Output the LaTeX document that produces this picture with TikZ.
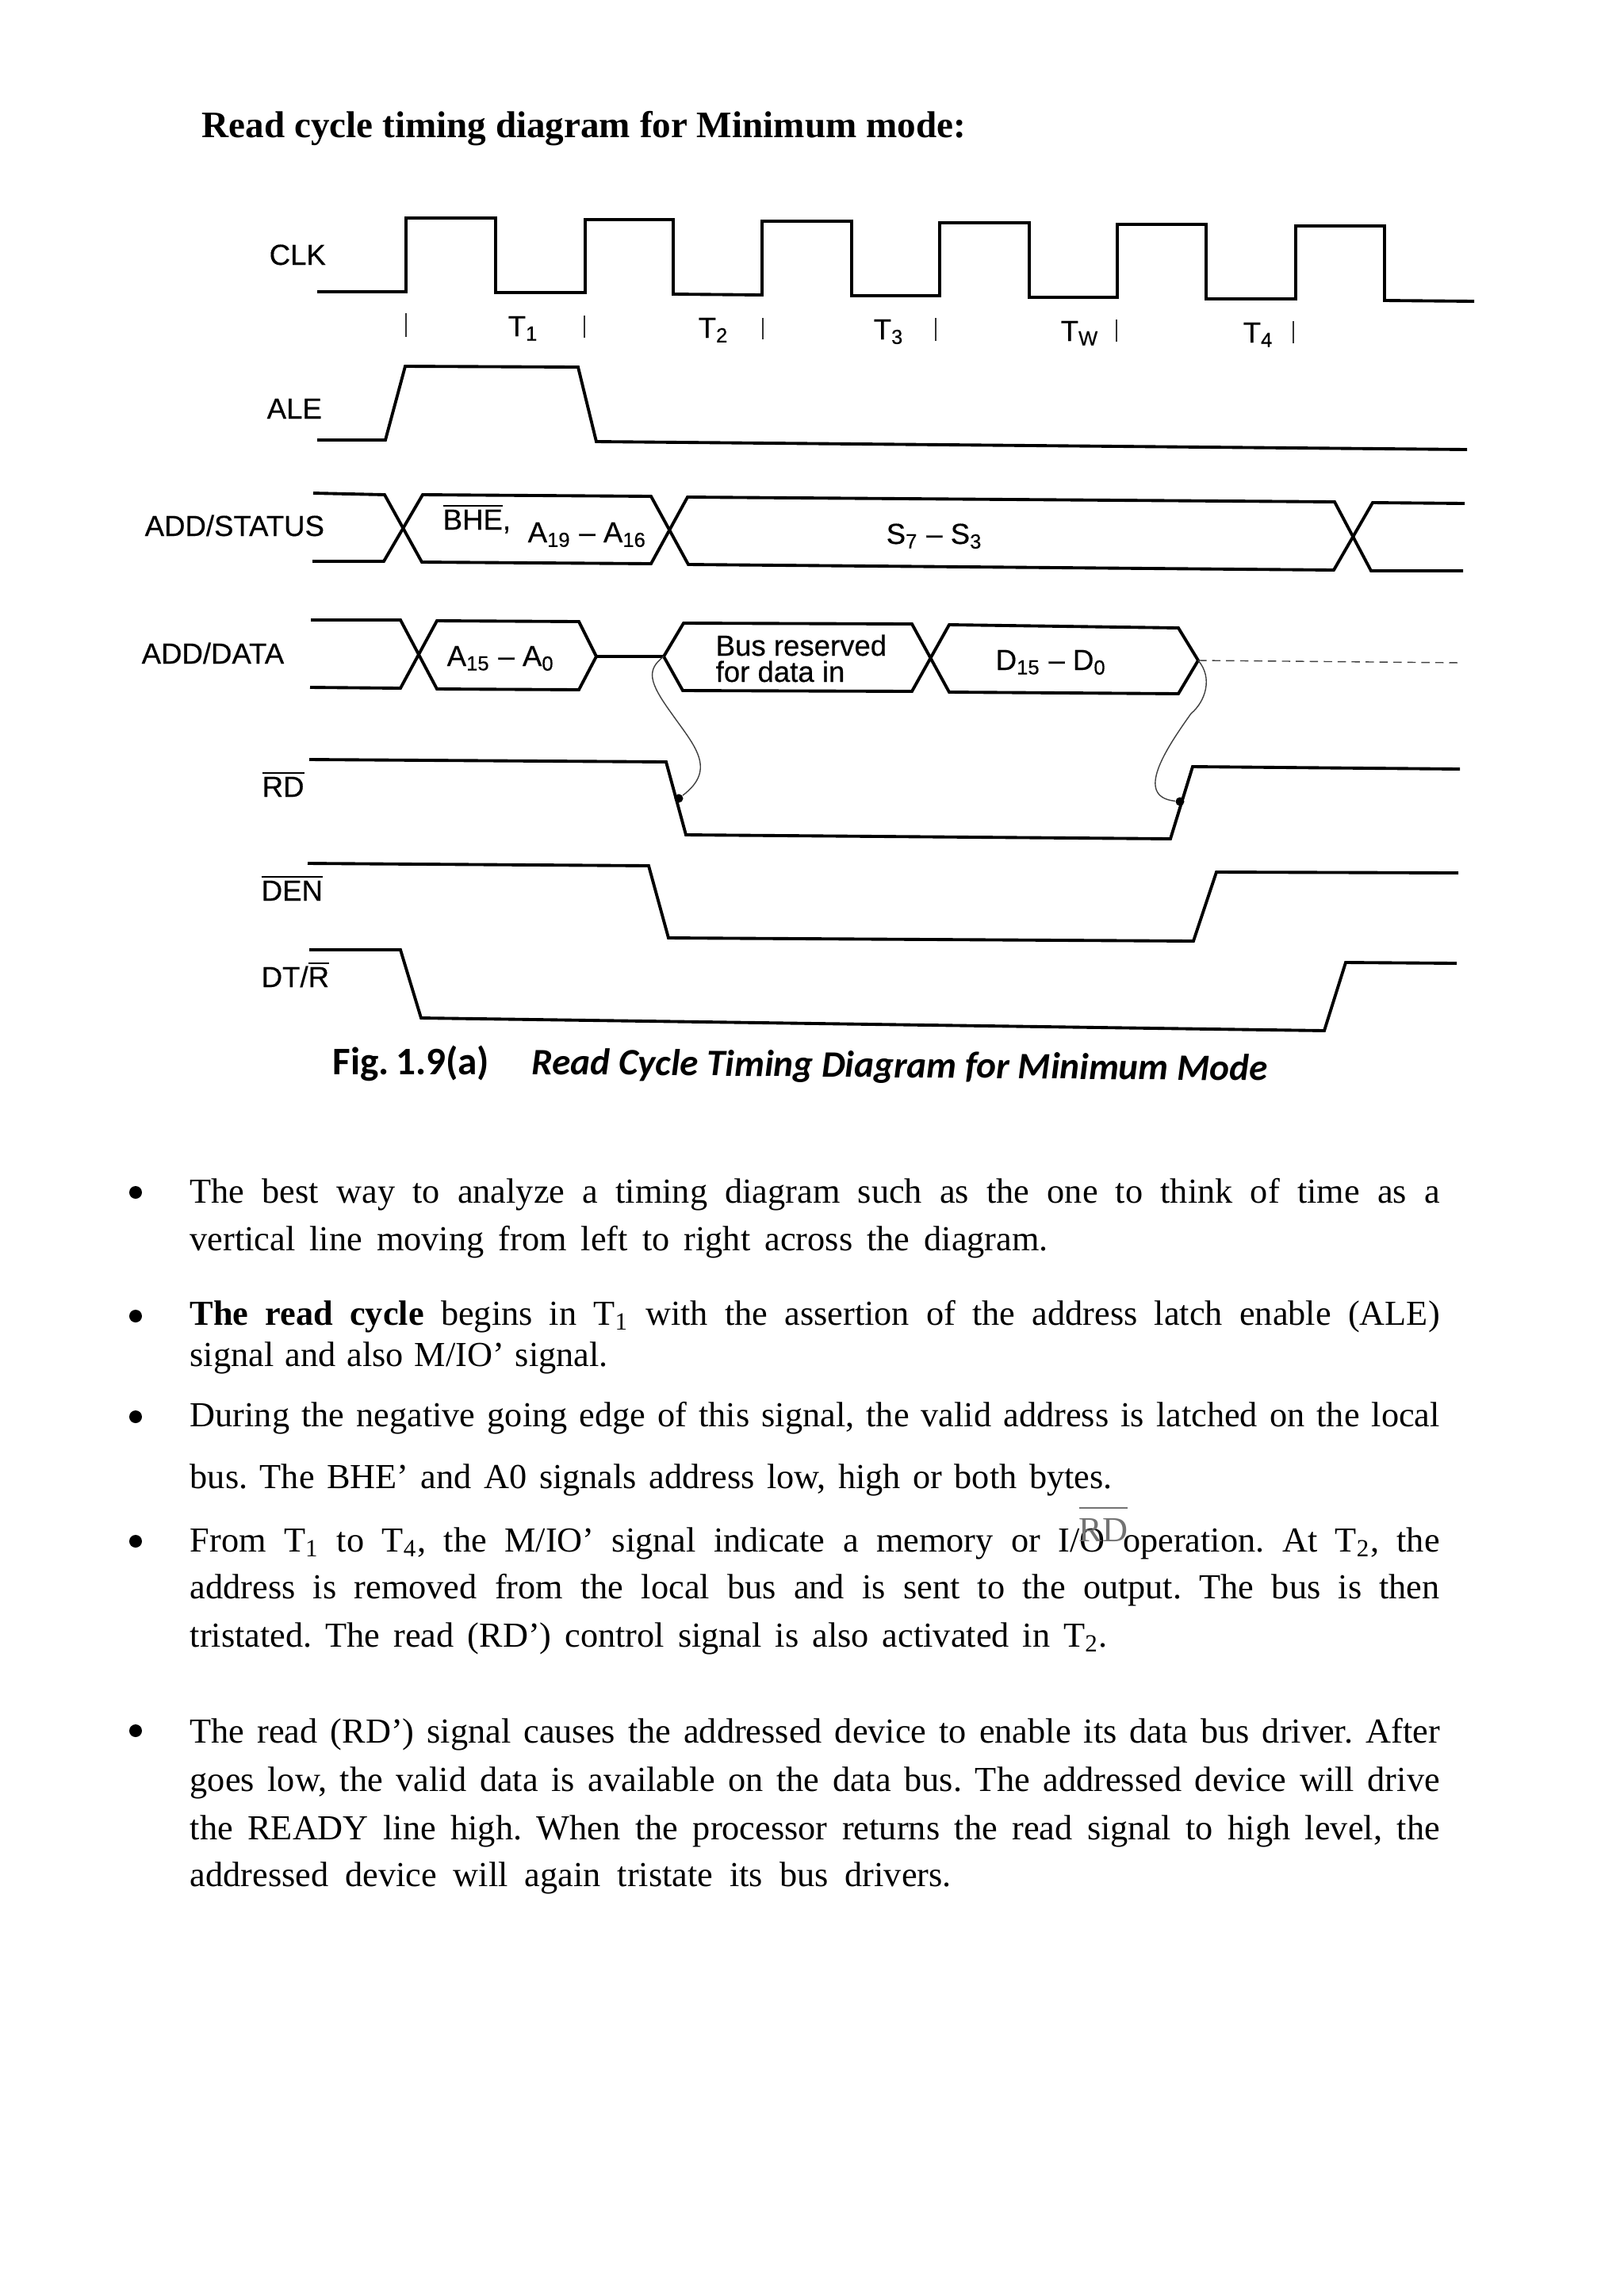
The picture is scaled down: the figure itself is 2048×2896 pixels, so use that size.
\documentclass[tikz,border=0pt]{standalone}
\usepackage{fontspec}
\setmainfont{Liberation Serif}
\newfontfamily\bodyfont{Liberation Serif}
\newfontfamily\labfont[FakeBold=0.4]{Liberation Sans}
\newfontfamily\capfont{Carlito}
\newdimen\pxu \pxu=0.01cm
\begin{document}
\begin{tikzpicture}[
  x=0.01cm, y=-0.01cm,
  sg/.style={line width=1.1pt, line join=miter},
  thn/.style={line width=0.4pt, black!75},
  tick/.style={line width=0.5pt, black!80},
  lab/.style={anchor=base west, inner sep=0pt, font=\labfont\fontsize{10.4}{11}\selectfont},
  nar/.style={anchor=base west, inner sep=0pt, font=\capfont\bfseries\fontsize{13.4}{14}\selectfont},
  ln/.style={anchor=base west, inner sep=0pt, font=\bodyfont\frenchspacing\fontsize{12.6}{14}\selectfont},
  bul/.style={circle, fill=black, inner sep=0pt, minimum size=0.16cm},
  pin/.style={circle, fill=black, inner sep=0pt, minimum size=0.11cm}
]
\useasboundingbox (0,0) rectangle (2048,2896);
% titulo
\node[ln, font=\bodyfont\bfseries\fontsize{13.4}{15}\selectfont] (title) at (254,173) {Read cycle timing diagram for Minimum mode:};
% clk
\draw[sg] (400,368) -- (512,368) -- (512,275) -- (625,275) -- (625,369) -- (738,369) -- (738,277) -- (849,277) -- (849,371) -- (961,372) -- (961,279) -- (1074,279) -- (1074,373) -- (1185,373) -- (1185,281) -- (1298,281) -- (1298,375) -- (1409,375) -- (1409,283) -- (1521,283) -- (1521,377) -- (1634,377) -- (1634,285) -- (1746,285) -- (1746,379) -- (1859,380);
\foreach \x/\a/\b in {512/395/425, 737/398/426, 962/401/428, 1180/401/430, 1408/403/431, 1631/405/433}
  \draw[tick] (\x,\a) -- (\x,\b);
\foreach \x/\y/\t [count=\i] in {640/424/1, 880/426/2, 1101/428/3, 1337/430/W, 1567/432/4}
  \node[lab] (tt\i) at (\x,\y) {T\textsubscript{\t}};
% nombres de las senales
\node[lab] (clk) at (339,334) {CLK};
\node[lab] (ale) at (336,528) {ALE};
\node[lab] (adds) at (182,676) {ADD/STATUS};
\node[lab] (addd) at (178,837) {ADD/DATA};
\node[lab] (rd) at (330,1005) {$\overline{\mbox{RD}}$};
\node[lab] (den) at (329,1136) {$\overline{\mbox{DEN}}$};
\node[lab] (dtr) at (329,1245) {DT/$\overline{\mbox{R}}$};
% ale
\draw[sg] (400,555) -- (486,555) -- (511,462) -- (729,463) -- (752,557) -- (1850,567);
% add/status
\draw[sg] (395,622) -- (485,624) -- (532,709) -- (821,711) -- (867,627) -- (1683,633) -- (1729,720) -- (1845,720);
\draw[sg] (394,708) -- (484,708) -- (533,624) -- (821,626) -- (868,712) -- (1682,719) -- (1731,634) -- (1847,635);
\node[lab] (bhe) at (558,668) {$\overline{\mbox{BHE}}$,};
\node[lab] (a19) at (665,684) {A\textsubscript{19} – A\textsubscript{16}};
\node[lab] (s7) at (1117,686) {S\textsubscript{7} – S\textsubscript{3}};
% add/data
\draw[sg] (392,782) -- (505,782) -- (551,869) -- (730,870) -- (752,828) -- (730,784) -- (551,783) -- (505,868) -- (391,867);
\coordinate (tipa) at (837,828);
\coordinate (tipb) at (1511,833);
\draw[sg] (752,828) -- (tipa) -- (862,786) -- (1150,787) -- (1197,873) -- (1486,875) -- (tipb) -- (1486,792) -- (1197,788) -- (1150,872) -- (861,871) -- (tipa);
\draw[thn, densely dashed] (tipb) -- (1844,836);
\node[lab] (a15) at (563,840) {A\textsubscript{15} – A\textsubscript{0}};
\node[lab] (bus) at (902,827) {Bus reserved};
\node[lab] (fordata) at (902,860) {for data in};
\node[lab] (d15) at (1255,845) {D\textsubscript{15} – D\textsubscript{0}};
% rd, den, dt/r
\draw[sg] (390,958) -- (840,961) -- (865,1053) -- (1476,1058) -- (1504,967) -- (1841,970);
\draw[sg] (388,1089) -- (818,1092) -- (843,1183) -- (1505,1187) -- (1534,1100) -- (1839,1101);
\draw[sg] (390,1198) -- (505,1198) -- (531,1284) -- (1670,1300) -- (1697,1214) -- (1837,1215);
\node[pin] (pina) at (856,1007) {};
\node[pin] (pinb) at (1488,1011) {};
\draw[thn] (tipa) .. controls (815,845) and (818,860) .. (847,900) .. controls (875,940) and (905,970) .. (pina);
\draw[thn] (tipb) .. controls (1530,855) and (1520,885) .. (1502,900) .. controls (1470,945) and (1430,1005) .. (pinb);
% pie
\node[nar, font=\capfont\bfseries\fontsize{14}{15}\selectfont] (fig) at (419,1355) {Fig.\,1.9(a)};
\node[nar, font=\capfont\bfseries\itshape\fontsize{13.4}{14}\selectfont, rotate=-0.5] (figcap) at (670,1355) {Read Cycle Timing Diagram for Minimum Mode};
% texto
\foreach \y/\w/\t [count=\i] in {
  1517/1576/{The best way to analyze a timing diagram such as the one to think of time as a},
  1577/1082/{vertical line moving from left to right across the diagram.},
  1671/1576/{\textbf{The read cycle} begins in T\textsubscript{1} with the assertion of the address latch enable (ALE)},
  1723/527/{signal and also M/IO’ signal.},
  1799/1576/{During the negative going edge of this signal, the valid address is latched on the local},
  1877/1163/{bus. The BHE’ and A0 signals address low, high or both bytes.},
  1957/1576/{From T\textsubscript{1} to T\textsubscript{4}, the M/IO’ signal indicate a memory or I/O operation. At T\textsubscript{2}, the},
  2016/1576/{address is removed from the local bus and is sent to the output. The bus is then},
  2077/1157/{tristated. The read (RD’) control signal is also activated in T\textsubscript{2}.},
  2198/1576/{The read (RD’) signal causes the addressed device to enable its data bus driver. After},
  2259/1576/{goes low, the valid data is available on the data bus. The addressed device will drive},
  2320/1576/{the READY line high. When the processor returns the read signal to high level, the},
  2379/960/{addressed device will again tristate its bus drivers.}}
  \node[ln] (line\i) at (239,\y) {\makebox[\w\pxu][s]{\t}};
\foreach \y [count=\i] in {1504, 1660, 1787, 1944, 2183}
  \node[bul] (dot\i) at (171,\y) {};
\node[ln, text=black!55] (rdover) at (1360,1944) {$\overline{\mbox{\rule{0pt}{0.37cm}RD}}$};
\end{tikzpicture}
\end{document}
